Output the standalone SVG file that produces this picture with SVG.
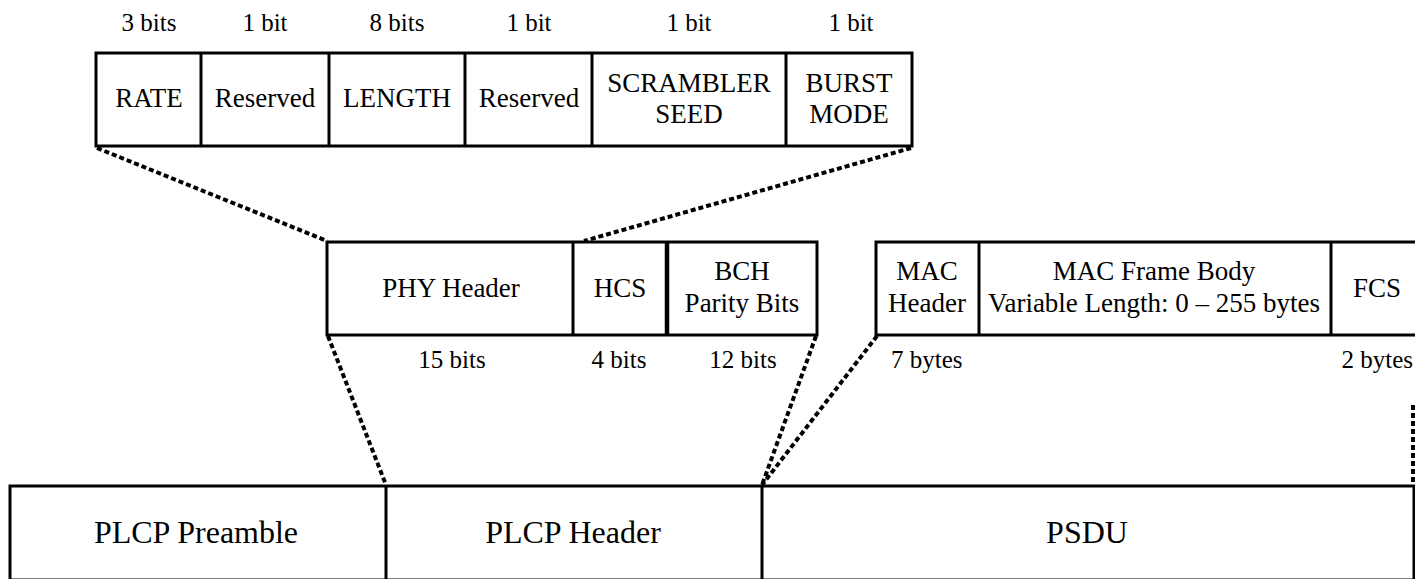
<svg xmlns="http://www.w3.org/2000/svg" width="1415" height="579" viewBox="0 0 1415 579" font-family="'Liberation Serif', 'DejaVu Serif', serif">
<style>
text{fill:#000;text-anchor:middle}
.box{fill:#fff;stroke:#000;stroke-width:3}
.div{stroke:#000;stroke-width:3}
.lbl{font-size:25px}
.t27{font-size:27px}
.t26{font-size:27px}
.t31{font-size:32px}
.dot{fill:none;stroke:#000;stroke-width:4;stroke-dasharray:5 3}
</style>
<rect width="1415" height="579" fill="#fff"/>
<g id="connectors">
<line class="dot" x1="97" y1="148" x2="327" y2="241"/>
<line class="dot" x1="911" y1="148" x2="584" y2="241"/>
<line class="dot" x1="328" y1="336" x2="386" y2="485"/>
<line class="dot" x1="816" y1="336" x2="762" y2="485"/>
<line class="dot" x1="877" y1="336" x2="762" y2="485"/>
<line class="dot" x1="1413" y1="405" x2="1413" y2="485"/>
</g>
<g id="bit-fields">
<rect class="box" x="96" y="53" width="816" height="93"/>
<line class="div" x1="201" y1="53" x2="201" y2="146"/>
<line class="div" x1="329" y1="53" x2="329" y2="146"/>
<line class="div" x1="465" y1="53" x2="465" y2="146"/>
<line class="div" x1="592" y1="53" x2="592" y2="146"/>
<line class="div" x1="786" y1="53" x2="786" y2="146"/>
<text class="lbl" x="149" y="31">3 bits</text>
<text class="lbl" x="265" y="31">1 bit</text>
<text class="lbl" x="397" y="31">8 bits</text>
<text class="lbl" x="529" y="31">1 bit</text>
<text class="lbl" x="689" y="31">1 bit</text>
<text class="lbl" x="851" y="31">1 bit</text>
<text class="t27" x="149" y="107">RATE</text>
<text class="t27" x="265" y="107">Reserved</text>
<text class="t27" x="397" y="107">LENGTH</text>
<text class="t27" x="529" y="107">Reserved</text>
<text class="t27" x="689" y="92">SCRAMBLER</text>
<text class="t27" x="689" y="123">SEED</text>
<text class="t27" x="849" y="92">BURST</text>
<text class="t27" x="849" y="123">MODE</text>
</g>
<g id="plcp-header-fields">
<rect class="box" x="327" y="242" width="490" height="93"/>
<line class="div" x1="573" y1="242" x2="573" y2="335"/>
<line class="div" x1="667" y1="242" x2="667" y2="335" style="stroke-width:4.5"/>
<text class="t26" x="451" y="297">PHY Header</text>
<text class="t26" x="620" y="297">HCS</text>
<text class="t26" x="742" y="280">BCH</text>
<text class="t26" x="742" y="312">Parity Bits</text>
<text class="lbl" x="452" y="368">15 bits</text>
<text class="lbl" x="619" y="368">4 bits</text>
<text class="lbl" x="743" y="368">12 bits</text>
</g>
<g id="psdu-fields">
<rect class="box" x="876" y="242" width="560" height="93"/>
<line class="div" x1="979" y1="242" x2="979" y2="335"/>
<line class="div" x1="1331" y1="242" x2="1331" y2="335"/>
<text class="t26" x="927" y="280">MAC</text>
<text class="t26" x="927" y="312">Header</text>
<text class="t26" x="1154" y="280">MAC Frame Body</text>
<text class="t26" x="1154" y="312">Variable Length: 0 – 255 bytes</text>
<text class="t26" x="1377" y="297">FCS</text>
<text class="lbl" x="891" y="368" style="text-anchor:start">7 bytes</text>
<text class="lbl" x="1413" y="368" style="text-anchor:end">2 bytes</text>
</g>
<g id="ppdu">
<rect class="box" x="10" y="486" width="1404" height="94"/>
<line class="div" x1="386" y1="486" x2="386" y2="580"/>
<line class="div" x1="762" y1="486" x2="762" y2="580"/>
<text class="t31" x="196" y="543">PLCP Preamble</text>
<text class="t31" x="573" y="543">PLCP Header</text>
<text class="t31" x="1087" y="543">PSDU</text>
</g>
</svg>
